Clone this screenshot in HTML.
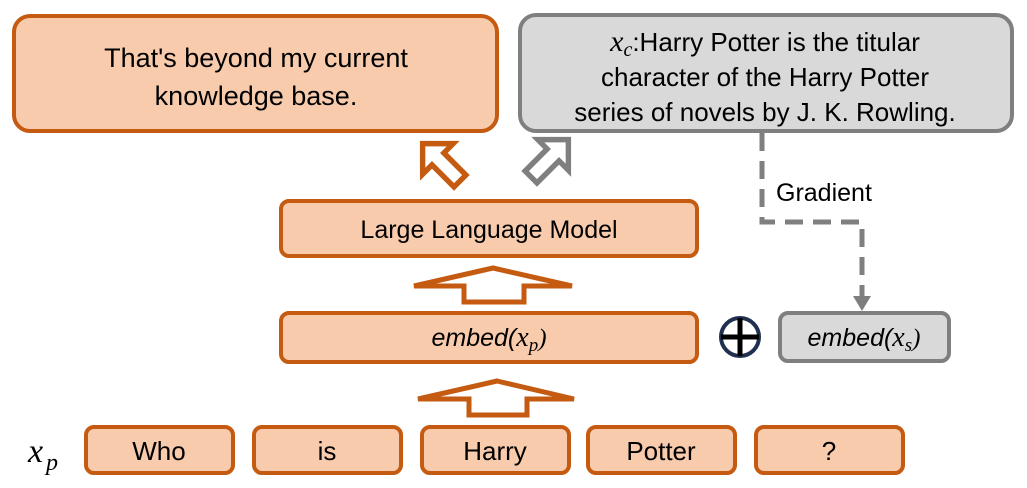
<!DOCTYPE html>
<html><head><style>
body{margin:0;background:#fff;}
svg{display:block;}
text{font-family:"Liberation Sans",Arial,sans-serif;fill:#000;}
.m{font-family:"Liberation Serif","DejaVu Serif",serif;font-style:italic;}
</style></head><body>
<svg width="1027" height="488" viewBox="0 0 1027 488" xmlns="http://www.w3.org/2000/svg">
<rect x="14" y="16" width="483" height="115" rx="16" fill="#f8cbad" stroke="#c55a11" stroke-width="4"/>
<text x="256" y="67" font-size="27" text-anchor="middle">That's beyond my current</text>
<text x="256" y="105" font-size="27" text-anchor="middle">knowledge base.</text>
<rect x="520" y="15" width="492" height="116" rx="16" fill="#d9d9d9" stroke="#7f7f7f" stroke-width="4"/>
<text x="765" y="51" font-size="26" text-anchor="middle"><tspan class="m" font-size="30">x</tspan><tspan class="m" font-size="20" dy="5">c</tspan><tspan dy="-5">:Harry Potter is the titular</tspan></text>
<text x="765" y="86" font-size="26" text-anchor="middle">character of the Harry Potter</text>
<text x="765" y="121" font-size="26" text-anchor="middle">series of novels by J. K. Rowling.</text>
<g transform="translate(443,164) rotate(-45) scale(1.2)">
<polygon points="0,-24 18,-6 7,-6 7,20 -7,20 -7,-6 -18,-6" fill="#fff" stroke="#c55a11" stroke-width="4.5"/>
</g>
<g transform="translate(548,160) rotate(45) scale(1.2)">
<polygon points="0,-24 18,-6 7,-6 7,20 -7,20 -7,-6 -18,-6" fill="#fff" stroke="#7f7f7f" stroke-width="4.5"/>
</g>
<rect x="281" y="201" width="416" height="55" rx="8" fill="#f8cbad" stroke="#c55a11" stroke-width="4"/>
<text x="489" y="238" font-size="25" text-anchor="middle">Large Language Model</text>
<polygon points="493,268 572,286 524,286 524,302 464,302 464,286 414,286" fill="#fff" stroke="#c55a11" stroke-width="5"/>
<rect x="281" y="313" width="416" height="49" rx="8" fill="#f8cbad" stroke="#c55a11" stroke-width="4"/>
<text x="489" y="346" font-size="25" text-anchor="middle"><tspan font-style="italic">embed(</tspan><tspan class="m" font-size="28">x</tspan><tspan class="m" font-size="19" dy="5">p</tspan><tspan class="m" dy="-5">)</tspan></text>
<polygon points="497,381 574,399 527,399 527,415 469,415 469,399 418,399" fill="#fff" stroke="#c55a11" stroke-width="5"/>
<circle cx="740" cy="337" r="19" fill="#fff" stroke="#1f3050" stroke-width="4"/>
<line x1="721" y1="337" x2="759" y2="337" stroke="#000" stroke-width="5"/>
<line x1="740" y1="318" x2="740" y2="356" stroke="#000" stroke-width="5"/>
<rect x="780" y="313" width="169" height="48" rx="8" fill="#d9d9d9" stroke="#7f7f7f" stroke-width="4"/>
<text x="864" y="346" font-size="25" text-anchor="middle"><tspan font-style="italic">embed(</tspan><tspan class="m" font-size="28">x</tspan><tspan class="m" font-size="19" dy="5">s</tspan><tspan class="m" dy="-5">)</tspan></text>
<polyline points="762,133 762,222 862,222 862,298" fill="none" stroke="#7f7f7f" stroke-width="5" stroke-dasharray="18,10"/>
<polygon points="853,296 871,296 862,311" fill="#7f7f7f"/>
<rect x="767" y="175" width="130" height="34" fill="#fff"/>
<text x="776" y="201" font-size="25">Gradient</text>
<text x="28" y="462" class="m" font-size="34">x</text>
<text x="46" y="470" class="m" font-size="24">p</text>
<g font-size="26" text-anchor="middle">
<rect x="86" y="427" width="147" height="46" rx="8" fill="#f8cbad" stroke="#c55a11" stroke-width="4"/><text x="159" y="460">Who</text>
<rect x="254" y="427" width="147" height="46" rx="8" fill="#f8cbad" stroke="#c55a11" stroke-width="4"/><text x="327" y="460">is</text>
<rect x="422" y="427" width="147" height="46" rx="8" fill="#f8cbad" stroke="#c55a11" stroke-width="4"/><text x="495" y="460">Harry</text>
<rect x="588" y="427" width="147" height="46" rx="8" fill="#f8cbad" stroke="#c55a11" stroke-width="4"/><text x="661" y="460">Potter</text>
<rect x="756" y="427" width="147" height="46" rx="8" fill="#f8cbad" stroke="#c55a11" stroke-width="4"/><text x="829" y="460">?</text>
</g>
</svg>
</body></html>
